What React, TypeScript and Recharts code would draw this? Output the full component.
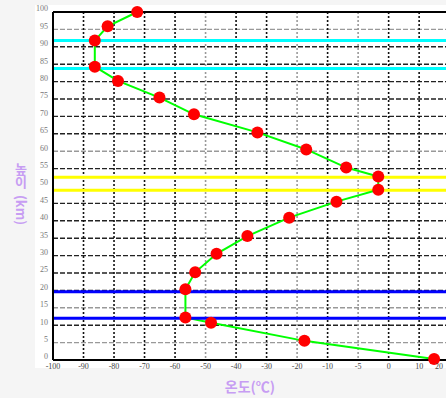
import { CartesianGrid, Line, LineChart, ReferenceLine, XAxis, YAxis } from "recharts";

// height (km) of each measured point, top to bottom
const heights = [100, 95.9, 91.8, 84.3, 80.2, 75.4, 70.6, 65.4, 60.5, 55.3, 52.7, 48.9, 45.5, 40.9, 35.6, 30.5, 25.2, 20.3, 12.2, 10.7, 5.5, 0.3];
// temperature, read on the drawn (evenly spaced) grid of the x axis
const temps = [-72.4, -82.1, -86.3, -86.3, -78.7, -65.1, -53.8, -33.0, -17.0, -3.9, 6.6, 6.6, -7.1, -22.6, -36.3, -46.4, -53.4, -56.6, -56.6, -48.2, -17.6, 24.9];

const xTicks = [-100, -90, -80, -70, -60, -50, -40, -30, -20, -10, 0, 10, 20, 26.5];
const xTickLabels = ["-100", "-90", "-80", "-70", "-60", "-50", "-40", "-30", "-20", "-10", "-5", "0", "10", "20"];
const yTicks = [0, 5, 10, 15, 20, 25, 30, 35, 40, 45, 50, 55, 60, 65, 70, 75, 80, 85, 90, 95, 100];

// layer boundaries
const cyanLevels = [91.8, 83.8];
const yellowLevels = [52.5, 48.8];
const blueLevels = [19.6, 12.0];

const darkRows = [10, 20, 25, 30, 35, 40, 45, 55, 65, 70, 75, 80, 85, 90];
const lightRows = [5, 15, 60, 95];
const darkCols = [-90, -80, -70, -60, -40, -30, -10, 10, 20];
const lightCols = [-50, -20, 0];

const data = heights.map((h, i) => ({ h, t: temps[i] }));

const labelColor = "#c79df3";
const labelFont = "'Noto Sans CJK KR', 'Noto Sans', sans-serif";
const serif = "'Liberation Serif', serif";

export default function App() {
  return (
    <div style={{ position: "absolute", left: 0, top: 0, width: 446, height: 398, background: "#f5f5f5", overflow: "hidden" }}>
      <div style={{ position: "absolute", left: 35, top: 5, width: 411, height: 363, background: "#fff" }} />
      <div style={{ position: "absolute", left: 0, top: 0 }}>
        <LineChart width={446} height={398} data={data} margin={{ top: 12, right: 0, left: 33, bottom: 18 }}>
          <CartesianGrid horizontalValues={darkRows} vertical={false} stroke="#222" strokeWidth={1.4} strokeDasharray="5 2" />
          <CartesianGrid horizontalValues={lightRows} vertical={false} stroke="#999" strokeWidth={1.4} strokeDasharray="5 2" />
          <CartesianGrid verticalValues={darkCols} horizontal={false} stroke="#111" strokeWidth={1.6} strokeDasharray="2 2" />
          <CartesianGrid verticalValues={lightCols} horizontal={false} stroke="#999" strokeWidth={1.6} strokeDasharray="2 2" />
          <XAxis
            type="number"
            dataKey="t"
            domain={[-100, 28.8]}
            ticks={xTicks}
            interval={0}
            tickFormatter={(_v, i) => xTickLabels[i]}
            tickLine={false}
            tickSize={0}
            tickMargin={3}
            tick={{ fontSize: 8, fill: "#444", fontFamily: serif }}
            axisLine={{ stroke: "#000", strokeWidth: 2 }}
            height={20}
            label={{
              content: () => (
                <text x={250} y={392} textAnchor="middle" fill={labelColor} fontSize={14} fontWeight={700} fontFamily={labelFont}>
                  온도(℃)
                </text>
              ),
            }}
          />
          <YAxis
            type="number"
            domain={[0, 100]}
            ticks={yTicks}
            interval={0}
            tickLine={false}
            tickSize={0}
            tickMargin={5}
            tick={{ fontSize: 8, fill: "#777", fontFamily: serif, dy: -3.5 }}
            axisLine={{ stroke: "#000", strokeWidth: 2 }}
            width={20}
            label={{
              content: () => (
                <text
                  x={21}
                  y={163}
                  fill={labelColor}
                  fontSize={13}
                  fontWeight={700}
                  fontFamily={labelFont}
                  style={{ writingMode: "vertical-rl", whiteSpace: "pre" }}
                >
                  높이  (km)
                </text>
              ),
            }}
          />
          <ReferenceLine y={100} stroke="#000" strokeWidth={2} />
          {cyanLevels.map((v) => (
            <ReferenceLine key={"c" + v} y={v} stroke="#00ffff" strokeWidth={3} />
          ))}
          {yellowLevels.map((v) => (
            <ReferenceLine key={"y" + v} y={v} stroke="#ffff00" strokeWidth={3} />
          ))}
          <Line
            dataKey="h"
            type="linear"
            stroke="#00ff00"
            strokeWidth={2}
            dot={{ r: 6, fill: "#ff0000", stroke: "#ff0000", strokeWidth: 0 }}
            activeDot={false}
            isAnimationActive={false}
          />
          {blueLevels.map((v) => (
            <ReferenceLine key={"b" + v} y={v} stroke="#0000ff" strokeWidth={3} />
          ))}
        </LineChart>
      </div>
    </div>
  );
}
